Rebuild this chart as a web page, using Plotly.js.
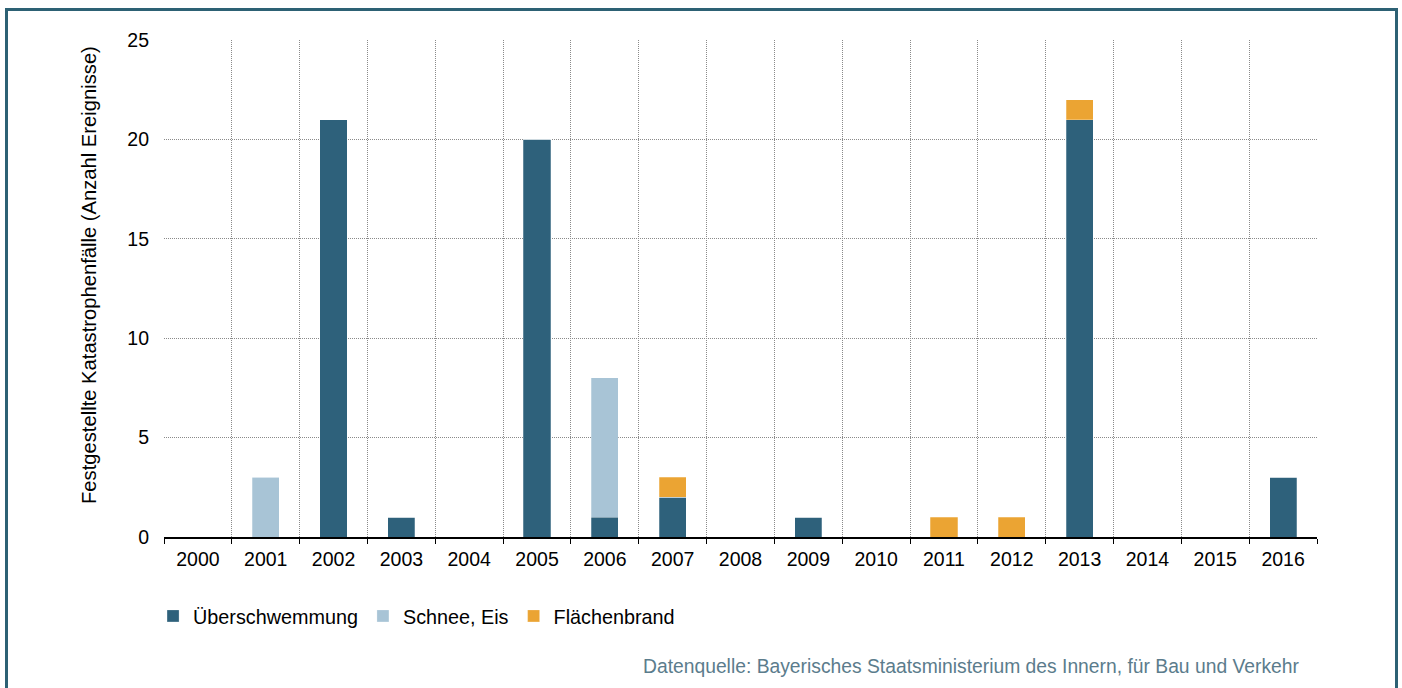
<!DOCTYPE html>
<html><head><meta charset="utf-8">
<script src="https://cdn.plot.ly/plotly-3.0.1.min.js"></script>
<style>
body{margin:0;background:#fff;}
#frame{position:absolute;left:5px;top:8px;width:1387px;height:700px;border:3px solid #2d6174;border-bottom:none;}
#chart{position:absolute;left:0;top:0;width:1402px;height:688px;}
</style></head>
<body><div id="frame"></div><div id="chart"></div>
<script>
const years = ['2000','2001','2002','2003','2004','2005','2006','2007','2008','2009','2010','2011','2012','2013','2014','2015','2016'];
const ueberschwemmung = [0,0,21,1,0,20,1,2,0,1,0,0,0,21,0,0,3];
const schneeEis =       [0,3,0,0,0,0,7,0,0,0,0,0,0,0,0,0,0];
const flaechenbrand =   [0,0,0,0,0,0,0,1,0,0,0,1,1,1,0,0,0];
const seriesNames = ['Überschwemmung','Schnee, Eis','Flächenbrand'];
const colors = ['#2e617b','#a8c4d6','#eba433'];
const yTitle = 'Festgestellte Katastrophenfälle (Anzahl Ereignisse)';
const source = 'Datenquelle: Bayerisches Staatsministerium des Innern, für Bau und Verkehr';

const vals = [ueberschwemmung, schneeEis, flaechenbrand];
const traces = vals.map((v,i)=>({
  type:'bar', x:years, y:v, name:seriesNames[i],
  marker:{color:colors[i], line:{color:'rgba(255,255,255,0.5)', width:0.5}},
  hoverinfo:'x+y+name'
}));
const font = 'Arial, "Liberation Sans", sans-serif';
const layout = {
  width:1402, height:688,
  margin:{l:164, r:85, t:40, b:151},
  barmode:'stack', bargap:0.6,
  paper_bgcolor:'rgba(0,0,0,0)', plot_bgcolor:'rgba(0,0,0,0)',
  font:{family:font, size:19.5, color:'#000'},
  showlegend:true,
  legend:{orientation:'h', x:-0.0095, xanchor:'left', y:-0.159, yanchor:'middle', font:{size:19.8}, itemwidth:30, traceorder:'normal'},
  xaxis:{type:'category', tickson:'boundaries', showgrid:true, gridcolor:'#8a8a8a', griddash:'1px,1px', gridwidth:1,
    ticks:'outside', ticklen:5, tickcolor:'#000', showline:true, linecolor:'#000', linewidth:1.5,
    tickfont:{size:19.5}, ticklabelstandoff:4, automargin:false, fixedrange:true},
  yaxis:{range:[0,25], dtick:5, showgrid:true, gridcolor:'#8a8a8a', griddash:'1px,1px', gridwidth:1,
    zeroline:false, showline:false, ticks:'', ticklabelstandoff:14, tickfont:{size:19.5},
    automargin:false, fixedrange:true},
  annotations:[
    {text:yTitle, textangle:-90, xref:'paper', yref:'paper', x:(89-164)/1153, y:0.5272, xanchor:'center', yanchor:'middle',
      showarrow:false, font:{size:20.2, color:'#000'}},
    {text:source, xref:'paper', yref:'paper', x:0.986, y:-0.26, xanchor:'right', yanchor:'middle',
    showarrow:false, font:{size:19.3, color:'#5b7c8c'}}]
};
Plotly.newPlot('chart', traces, layout, {displayModeBar:false, staticPlot:true});
</script></body></html>
